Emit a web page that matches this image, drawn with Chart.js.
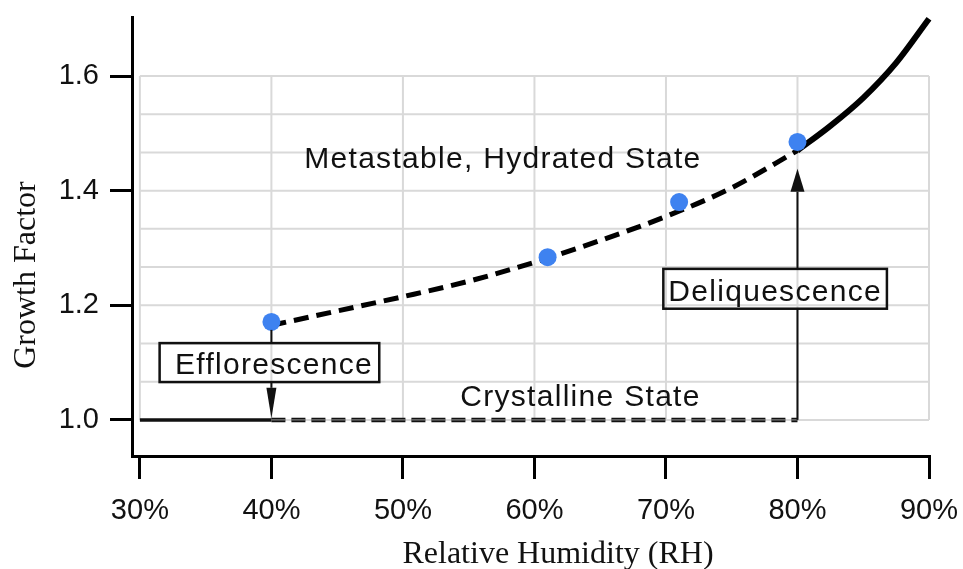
<!DOCTYPE html>
<html>
<head>
<meta charset="utf-8">
<script src="https://cdn.jsdelivr.net/npm/chart.js@4.4.0/dist/chart.umd.min.js"></script>
<style>
  html, body { margin: 0; padding: 0; background: #fff; }
</style>
</head>
<body>
<canvas id="myChart" width="963" height="569"></canvas>
<script>
// growth factor curve
const curveRH = [40, 45, 50, 55, 60, 65, 70, 75, 80];
const curveGF = [1.165, 1.19, 1.215, 1.242, 1.275, 1.313, 1.355, 1.405, 1.47];
const upperRH = [80, 82.5, 85, 87.5, 90];
const upperGF = [1.47, 1.513, 1.562, 1.623, 1.70];

// measured points
const measRH = [40, 61, 71, 80];
const measGF = [1.171, 1.284, 1.380, 1.485];

// crystalline branch
const dryRH = [30, 40];
const dryGF = [1.0, 1.0];
const crystRH = [40, 80];
const crystGF = [1.0, 1.0];

const xTicks = [30, 40, 50, 60, 70, 80, 90];
const yTicks = [1.0, 1.2, 1.4, 1.6];

const effloRH = 40;
const deliqRH = 80;

const sansFont = '"Liberation Sans", Arial, Helvetica, sans-serif';
const serifFont = '"Liberation Serif", "Times New Roman", serif';

function pairs(xs, ys) {
    return xs.map((x, i) => ({x: x, y: ys[i]}));
}

// light grid box, only between 30-90% and 1.0-1.6
const boxGrid = {
    id: 'boxGrid',
    beforeDatasetsDraw(chart) {
        const ctx = chart.ctx;
        const x = chart.scales.x, y = chart.scales.y;
        const x0 = x.getPixelForValue(30), x1 = x.getPixelForValue(90);
        const y0 = y.getPixelForValue(1.0), y1 = y.getPixelForValue(1.6);
        ctx.save();
        ctx.strokeStyle = '#d9d9d9';
        ctx.lineWidth = 2;
        ctx.beginPath();
        for (let v = 30; v <= 90; v += 10) {
            const px = x.getPixelForValue(v);
            ctx.moveTo(px, y0); ctx.lineTo(px, y1);
        }
        for (let k = 0; k <= 9; k++) {
            const py = y.getPixelForValue(1 + k * 0.2 / 3);
            ctx.moveTo(x0, py); ctx.lineTo(x1, py);
        }
        ctx.stroke();
        ctx.restore();
    }
};

function arrowHead(ctx, px, tipY, baseY, half) {
    ctx.beginPath();
    ctx.moveTo(px, tipY);
    ctx.lineTo(px - half, baseY);
    ctx.lineTo(px + half, baseY);
    ctx.closePath();
    ctx.fill();
}

function vline(ctx, px, ya, yb) {
    ctx.beginPath();
    ctx.moveTo(px, ya);
    ctx.lineTo(px, yb);
    ctx.stroke();
}

// labels, boxes, arrows, axis titles
const notes = {
    id: 'notes',
    afterDatasetsDraw(chart) {
        const ctx = chart.ctx;
        const x = chart.scales.x, y = chart.scales.y;
        const X = v => x.getPixelForValue(v);
        const Y = v => y.getPixelForValue(v);
        ctx.save();
        ctx.fillStyle = '#111';
        ctx.strokeStyle = '#111';
        ctx.lineWidth = 2;

        // Efflorescence
        const ex = X(effloRH);
        vline(ctx, ex, Y(measGF[0]) + 8, Y(1.134));
        ctx.lineWidth = 2.5;
        ctx.strokeRect(X(31.5), Y(1.134), X(48.2) - X(31.5), Y(1.066) - Y(1.134));
        ctx.lineWidth = 2;
        vline(ctx, ex, Y(1.066), Y(1.056));
        arrowHead(ctx, ex, Y(1.003), Y(1.056), 5);

        // Deliquescence
        const dx = X(deliqRH);
        vline(ctx, dx, Y(1.0), Y(1.194));
        ctx.lineWidth = 2.5;
        ctx.strokeRect(X(69.8), Y(1.2635), X(86.8) - X(69.8), Y(1.194) - Y(1.2635));
        ctx.lineWidth = 2;
        vline(ctx, dx, Y(1.2635), Y(1.398));
        arrowHead(ctx, dx, Y(1.438), Y(1.398), 7);

        // texts
        ctx.font = '30px ' + sansFont;
        ctx.letterSpacing = '1.3px';
        ctx.textAlign = 'center';
        ctx.textBaseline = 'alphabetic';
        ctx.fillText('Metastable, Hydrated State', X(57.6), Y(1.44));
        ctx.fillText('Crystalline State', X(63.5), Y(1.024));
        ctx.fillText('Efflorescence', X(40.2), Y(1.080));
        ctx.fillText('Deliquescence', X(78.3), Y(1.208));

        // axis titles
        ctx.letterSpacing = '0px';
        ctx.font = '32px ' + serifFont;
        ctx.fillText('Relative Humidity (RH)', 558, 563);
        ctx.translate(35, 275);
        ctx.rotate(-Math.PI / 2);
        ctx.fillText('Growth Factor', 0, 0);
        ctx.restore();
    }
};

const ctx = document.getElementById('myChart').getContext('2d');

const config = {
    type: 'line',
    data: {
        datasets: [
            {
                label: 'measured',
                data: pairs(measRH, measGF),
                showLine: false,
                pointRadius: 9,
                pointBackgroundColor: '#3e82f0',
                pointBorderWidth: 0
            },
            {
                label: 'curve',
                data: pairs(curveRH, curveGF),
                borderColor: '#000',
                borderWidth: 5,
                borderDash: [15, 8],
                pointRadius: 0,
                cubicInterpolationMode: 'monotone',
                clip: false
            },
            {
                label: 'upper',
                data: pairs(upperRH, upperGF),
                borderColor: '#000',
                borderWidth: 6,
                pointRadius: 0,
                cubicInterpolationMode: 'monotone',
                clip: false
            },
            {
                label: 'crystal inner',
                data: pairs(crystRH, crystGF),
                borderColor: '#bbb',
                borderWidth: 0.8,
                borderDash: [14, 6],
                pointRadius: 0
            },
            {
                label: 'crystal',
                data: pairs(crystRH, crystGF),
                borderColor: '#111',
                borderWidth: 4.5,
                borderDash: [14, 6],
                pointRadius: 0
            },
            {
                label: 'dry',
                data: pairs(dryRH, dryGF),
                borderColor: '#111',
                borderWidth: 3.5,
                pointRadius: 0,
                clip: false
            }
        ]
    },
    options: {
        responsive: false,
        animation: false,
        devicePixelRatio: 1,
        layout: { padding: { left: 0, top: 17, right: 34, bottom: 0 } },
        plugins: {
            legend: { display: false },
            tooltip: { enabled: false }
        },
        scales: {
            x: {
                type: 'linear',
                min: 29.4,
                max: 90,
                afterBuildTicks: s => { s.ticks = xTicks.map(v => ({value: v})); },
                afterFit: s => { s.height = 113; s.paddingLeft = 0; s.paddingRight = 0; },
                border: { display: true, color: '#000', width: 3 },
                grid: { drawOnChartArea: false, drawTicks: true, tickLength: 23, color: '#000', lineWidth: 3 },
                ticks: {
                    color: '#111',
                    font: { family: sansFont, size: 29 },
                    padding: 15,
                    maxRotation: 0,
                    callback: v => v + '%'
                }
            },
            y: {
                type: 'linear',
                min: 0.937,
                max: 1.703,
                afterBuildTicks: s => { s.ticks = yTicks.map(v => ({value: v})); },
                afterFit: s => { s.width = 132; s.paddingTop = 0; s.paddingBottom = 0; },
                border: { display: true, color: '#000', width: 3 },
                grid: { drawOnChartArea: false, drawTicks: true, tickLength: 22, color: '#000', lineWidth: 3 },
                ticks: {
                    color: '#111',
                    font: { family: sansFont, size: 29 },
                    padding: 11,
                    callback: v => v.toFixed(1)
                }
            }
        }
    },
    plugins: [boxGrid, notes]
};

const myChart = new Chart(ctx, config);
</script>
</body>
</html>
